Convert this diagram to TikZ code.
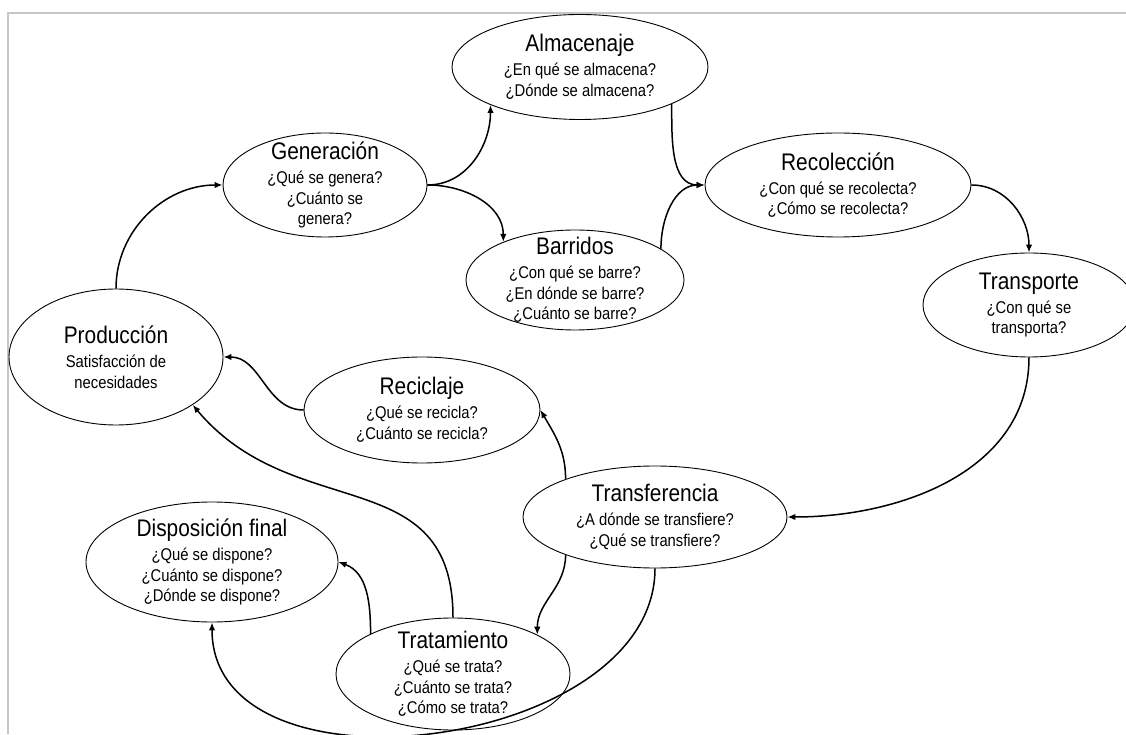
\documentclass[tikz,border=0pt]{standalone}
\usepackage{fontspec}
\setmainfont{Liberation Sans}[FakeStretch=0.87]
\usetikzlibrary{shapes.geometric,arrows.meta}

\newcommand{\titulo}[1]{{\fontsize{24}{24}\selectfont #1}\\[3.5pt]}

\begin{document}
\begin{tikzpicture}[x=1pt,y=1pt,
etapa/.style={ellipse,draw,line width=0.9pt,inner sep=0pt},
texto/.style={align=center,inner sep=0pt,
font=\fontsize{17}{20.5}\selectfont},
flecha/.style={line width=1.5pt,
-{Latex[length=8pt,width=6.5pt]}},
marco/.style={gray!45,line width=1.5pt}
]
\useasboundingbox (0,0) rectangle (1126,734);

% marco
\draw[marco] (8,0) -- (8,721) -- (1126,721);

% etapas
\node[etapa,minimum width=256pt,minimum height=105pt,
label={[texto]center:\titulo{Almacenaje}¿En qué se almacena?\\¿Dónde se almacena?}]
(alm) at (580,667) {};
\node[etapa,minimum width=204pt,minimum height=104pt,
label={[texto]center:\titulo{Generación}¿Qué se genera?\\¿Cuánto se\\genera?}]
(gen) at (325,549) {};
\node[etapa,minimum width=218pt,minimum height=100pt,
label={[texto]center:\titulo{Barridos}¿Con qué se barre?\\¿En dónde se barre?\\¿Cuánto se barre?}]
(bar) at (575,454) {};
\node[etapa,minimum width=266pt,minimum height=104pt,
label={[texto]center:\titulo{Recolección}¿Con qué se recolecta?\\¿Cómo se recolecta?}]
(rec) at (838,549) {};
\node[etapa,minimum width=212pt,minimum height=104pt,
label={[texto]center:\titulo{Transporte}¿Con qué se\\transporta?}]
(tra) at (1029,429) {};
\node[etapa,minimum width=214pt,minimum height=136pt,
label={[texto]center:\titulo{Producción}Satisfacción de\\necesidades}]
(prod) at (116,377) {};
\node[etapa,minimum width=236pt,minimum height=106pt,
label={[texto]center:\titulo{Reciclaje}¿Qué se recicla?\\¿Cuánto se recicla?}]
(rcl) at (422,324) {};
\node[etapa,minimum width=264pt,minimum height=102pt,
label={[texto]center:\titulo{Transferencia}¿A dónde se transfiere?\\¿Qué se transfiere?}]
(trf) at (655,217) {};
\node[etapa,minimum width=252pt,minimum height=120pt,
label={[texto]center:\titulo{Disposición final}¿Qué se dispone?\\¿Cuánto se dispone?\\¿Dónde se dispone?}]
(dis) at (212,172) {};
\node[etapa,minimum width=234pt,minimum height=112pt,
label={[texto]center:\titulo{Tratamiento}¿Qué se trata?\\¿Cuánto se trata?\\¿Cómo se trata?}]
(tat) at (453,60) {};

% flechas
\draw[flecha] (prod.north) to[out=90,in=180] (gen.west);
\draw[flecha] (gen.east) to[out=0,in=-90] (alm.203);
\draw[flecha] (gen.east) to[out=0,in=90] (bar.152);
\draw[flecha] (alm.338) to[out=-90,in=180] (rec.west);
\draw[flecha] (bar.20) to[out=90,in=180] (rec.west);
\draw[flecha] (rec.east) to[out=0,in=90] (tra.north);
\draw[flecha] (tra.south) to[out=-90,in=0] (trf.east);
\draw[flecha] (trf.157) to[out=90,in=-60] (rcl.east);
\draw[flecha] (trf.203) to[out=-90,in=90] (tat.25);
\draw[flecha] (trf.south) to[out=-90,in=-90,looseness=1.05] (dis.south);
\draw[flecha] (tat.154) to[out=90,in=-20] (dis.east);
\draw[flecha] (tat.north) to[out=90,in=-50,looseness=1.2] (prod.328);
\draw[flecha] (rcl.west) to[out=180,in=0] (prod.east);

\end{tikzpicture}
\end{document}
